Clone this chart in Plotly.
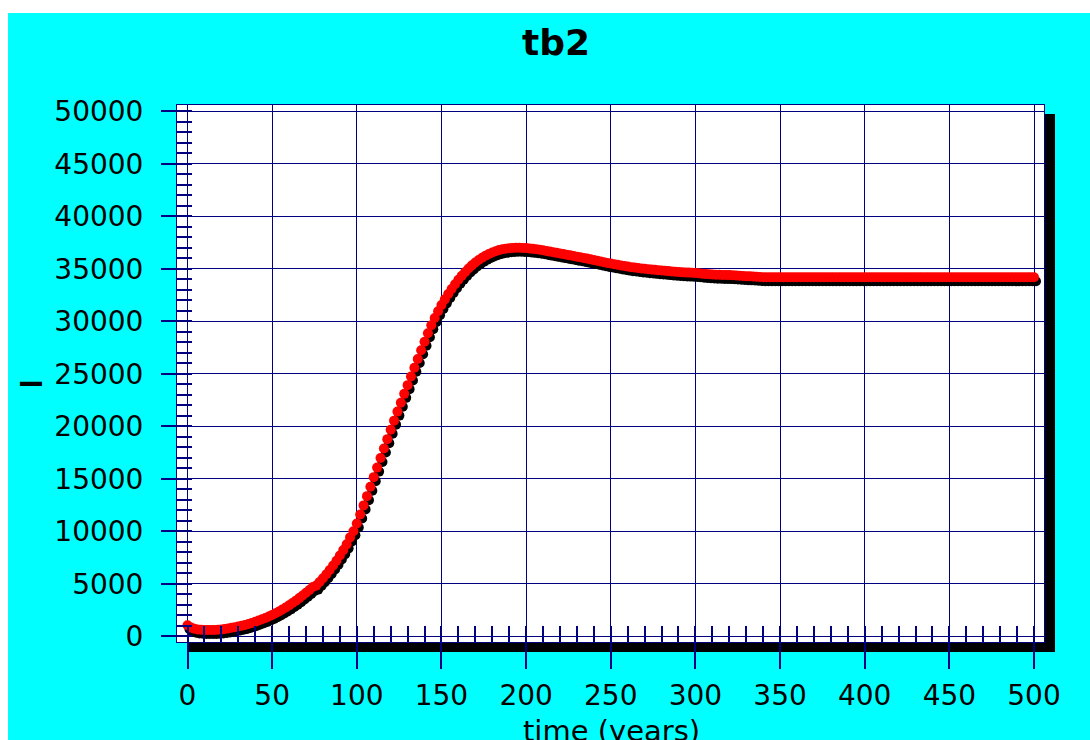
import plotly.graph_objects as go

# ---- data ----
years = list(range(0, 501, 2))
tb2 = [
    1050, 850, 720, 650, 620, 600, 600, 600, 610, 630,
    660, 700, 750, 810, 870, 940, 1010, 1090, 1180, 1280,
    1390, 1500, 1620, 1750, 1890, 2040, 2200, 2370, 2550, 2740,
    2950, 3170, 3400, 3640, 3890, 4150, 4420, 4700, 4830, 5170,
    5530, 5910, 6310, 6740, 7200, 7690, 8210, 8760, 9420, 10000,
    10750, 11600, 12470, 13350, 14250, 15160, 16070, 16980, 17880, 18780,
    19670, 20540, 21400, 22250, 23090, 23920, 24750, 25580, 26410, 27240,
    28060, 28860, 29620, 30320, 30960, 31550, 32090, 32600, 33080, 33530,
    33950, 34340, 34700, 35030, 35330, 35600, 35840, 36050, 36240, 36410,
    36560, 36680, 36780, 36860, 36920, 36960, 36990, 37000, 37000, 36990,
    36970, 36940, 36900, 36860, 36810, 36760, 36700, 36640, 36580, 36520,
    36460, 36400, 36340, 36280, 36220, 36160, 36100, 36040, 35970, 35900,
    35830, 35760, 35690, 35620, 35560, 35500, 35440, 35380, 35320, 35260,
    35210, 35160, 35120, 35080, 35040, 35000, 34960, 34930, 34900, 34870,
    34840, 34810, 34780, 34750, 34720, 34700, 34680, 34660, 34640, 34620,
    34600, 34570, 34540, 34510, 34480, 34450, 34440, 34430, 34420, 34410,
    34400, 34380, 34360, 34340, 34320, 34300, 34280, 34260, 34240, 34220,
    34200, 34200, 34200, 34200, 34200, 34200, 34200, 34200, 34200, 34200,
    34200, 34200, 34200, 34200, 34200, 34200, 34200, 34200, 34200, 34200,
    34200, 34200, 34200, 34200, 34200, 34200, 34200, 34200, 34200, 34200,
    34200, 34200, 34200, 34200, 34200, 34200, 34200, 34200, 34200, 34200,
    34200, 34200, 34200, 34200, 34200, 34200, 34200, 34200, 34200, 34200,
    34200, 34200, 34200, 34200, 34200, 34200, 34200, 34200, 34200, 34200,
    34200, 34200, 34200, 34200, 34200, 34200, 34200, 34200, 34200, 34200,
    34200, 34200, 34200, 34200, 34200, 34200, 34200, 34200, 34200, 34200,
    34200,
]
title_text = "tb2"
x_title = "time (years)"
y_title = "_"

# ---- layout geometry ----
W, H = 1090, 740
L, R, T, B = 177, 46, 105, 98
PW, PH = W - L - R, H - T - B
XR = [-6.2, 505.9]
YR = [-540, 50600]

NAVY = "#000080"
CYAN = "#00FFFF"
FONT = "DejaVu Sans"


def pxx(px):
    return (px - L) / PW


def pxy(py):
    return (H - B - py) / PH


# shadow offset (pixels -> data units)
dx = 2 * (XR[1] - XR[0]) / PW
dy = 4 * (YR[1] - YR[0]) / PH

fig = go.Figure()
fig.add_trace(go.Scatter(
    x=[t + dx for t in years], y=[v - dy for v in tb2], mode="markers",
    marker=dict(color="black", size=10, line=dict(width=0)),
    hoverinfo="skip", showlegend=False))
fig.add_trace(go.Scatter(
    x=years, y=tb2, mode="markers", name="tb2",
    marker=dict(color="#FF0000", size=10, line=dict(width=0)),
    showlegend=False))

axis_common = dict(
    showgrid=True, gridcolor=NAVY, gridwidth=1,
    showline=True, linecolor=NAVY, linewidth=1, mirror=True,
    zeroline=False, ticks="outside", tickcolor=NAVY,
    tickfont=dict(family=FONT, size=28, color="black"),
    tickformat="d",
    automargin=False,
)

fig.update_xaxes(
    **axis_common, range=XR, tick0=0, dtick=50, ticklen=26, tickwidth=2,
    ticklabelstandoff=2,
    minor=dict(ticks="inside", ticklen=16, tickwidth=1.5, tickcolor=NAVY,
               tick0=0, dtick=10, showgrid=False),
)
fig.update_yaxes(
    **axis_common, range=YR, tick0=0, dtick=5000, ticklen=15, tickwidth=1.5,
    ticklabelstandoff=12,
    minor=dict(ticks="inside", ticklen=15, tickwidth=1.5, tickcolor=NAVY,
               tick0=0, dtick=1000, showgrid=False),
)

shapes = [
    # white strips outside the cyan panel
    dict(type="rect", xref="paper", yref="paper", x0=pxx(0), x1=pxx(8),
         y0=pxy(H), y1=pxy(0), fillcolor="white", line=dict(width=0),
         layer="below"),
    dict(type="rect", xref="paper", yref="paper", x0=pxx(0), x1=pxx(W),
         y0=pxy(13), y1=pxy(0), fillcolor="white", line=dict(width=0),
         layer="below"),
    # drop shadow of the plot frame
    dict(type="rect", xref="paper", yref="paper", x0=pxx(1045), x1=pxx(1055),
         y0=pxy(652), y1=pxy(114), fillcolor="black", line=dict(width=0),
         layer="below"),
    dict(type="rect", xref="paper", yref="paper", x0=pxx(188), x1=pxx(1055),
         y0=pxy(652), y1=pxy(642), fillcolor="black", line=dict(width=0),
         layer="below"),
]

fig.update_layout(
    width=W, height=H,
    margin=dict(l=L, r=R, t=T, b=B, autoexpand=False),
    paper_bgcolor=CYAN, plot_bgcolor="white",
    shapes=shapes,
    title=dict(text="<b>" + title_text + "</b>", x=pxx(556), xref="paper",
               xanchor="center", y=1 - 42 / H, yref="container",
               yanchor="middle",
               font=dict(family=FONT, size=36, color="black")),
    annotations=[
        dict(text="<b>" + y_title + "</b>", xref="paper", yref="paper",
             x=pxx(31), y=pxy(360), showarrow=False,
             xanchor="center", yanchor="middle",
             font=dict(family=FONT, size=44, color="black")),
        dict(text=x_title, xref="paper", yref="paper",
             x=pxx(611), y=pxy(731), showarrow=False,
             xanchor="center", yanchor="middle",
             font=dict(family=FONT, size=29, color="black")),
    ],
    showlegend=False,
)

fig.write_html("out.html")
